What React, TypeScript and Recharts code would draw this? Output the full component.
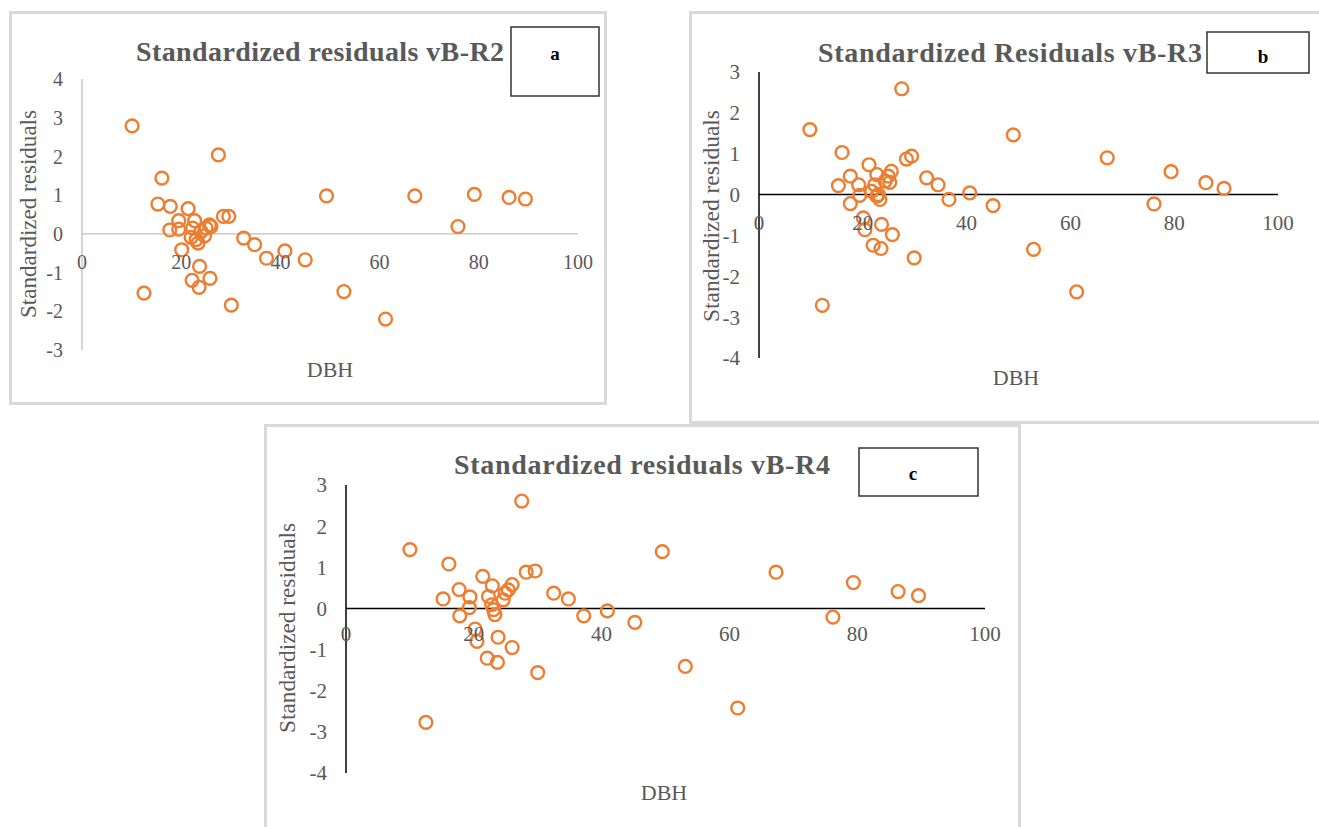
import React from 'react';
import { ScatterChart, Scatter, XAxis, YAxis, ReferenceLine } from 'recharts';

// Panel a: vB-R2
const dbhA = [10.1, 12.5, 15.3, 16.1, 17.7, 17.8, 19.5, 19.5, 20.1, 21.4, 22.0, 22.2, 22.3, 22.7, 23.0, 23.4, 23.6, 23.7, 24.0, 24.7, 25.0, 25.7, 25.8, 26.0, 27.5, 28.5, 29.6, 30.1, 32.6, 34.8, 37.2, 40.9, 45.0, 49.3, 52.8, 61.2, 67.1, 75.8, 79.1, 86.1, 89.4];
const residA = [2.79, -1.53, 0.77, 1.44, 0.1, 0.71, 0.34, 0.12, -0.41, 0.65, -0.09, -1.2, 0.15, 0.34, -0.15, -0.24, -1.38, -0.84, 0.06, -0.05, 0.15, 0.23, -1.15, 0.19, 2.04, 0.45, 0.45, -1.84, -0.11, -0.28, -0.63, -0.44, -0.67, 0.98, -1.49, -2.2, 0.98, 0.19, 1.02, 0.94, 0.9];

// Panel b: vB-R3
const dbhB = [9.8, 12.2, 15.3, 16.0, 17.6, 17.6, 19.2, 19.4, 20.1, 20.4, 21.2, 21.7, 22.0, 22.3, 22.7, 22.7, 23.0, 23.3, 23.5, 23.6, 24.3, 24.9, 25.2, 25.5, 25.7, 27.5, 28.4, 29.4, 29.9, 32.3, 34.5, 36.6, 40.6, 45.1, 49.0, 52.9, 61.2, 67.1, 76.1, 79.4, 86.1, 89.6];
const residB = [1.59, -2.71, 0.22, 1.03, 0.45, -0.22, 0.24, -0.02, -0.57, -0.86, 0.73, 0.08, -1.24, 0.24, 0.49, -0.04, 0.0, -0.12, -1.32, -0.73, 0.33, 0.45, 0.3, 0.57, -0.98, 2.59, 0.87, 0.94, -1.55, 0.41, 0.24, -0.12, 0.04, -0.27, 1.46, -1.34, -2.38, 0.9, -0.23, 0.56, 0.29, 0.15];

// Panel c: vB-R4
const dbhC = [10.0, 12.5, 15.2, 16.1, 17.7, 17.8, 19.4, 19.3, 20.2, 20.5, 21.4, 22.3, 22.1, 22.8, 22.9, 23.1, 23.3, 23.7, 23.8, 24.6, 24.9, 25.4, 26.0, 26.0, 27.5, 28.2, 29.6, 30.0, 32.5, 34.8, 37.2, 40.9, 45.2, 49.5, 53.1, 61.3, 67.3, 76.2, 79.4, 86.4, 89.6];
const residC = [1.43, -2.77, 0.23, 1.08, 0.46, -0.18, 0.28, 0.02, -0.5, -0.8, 0.78, 0.29, -1.21, 0.09, 0.55, -0.03, -0.15, -1.31, -0.7, 0.21, 0.37, 0.45, 0.58, -0.95, 2.61, 0.88, 0.91, -1.56, 0.37, 0.23, -0.18, -0.06, -0.34, 1.38, -1.41, -2.42, 0.88, -0.21, 0.63, 0.41, 0.31];

const xTicks = [0, 20, 40, 60, 80, 100];
const yTicksA = [-3, -2, -1, 0, 1, 2, 3, 4];
const yTicksBC = [-4, -3, -2, -1, 0, 1, 2, 3];

const SERIF = '"Liberation Serif", "Times New Roman", serif';
const ORANGE = '#ED7D31';
const TEXT = '#595959';

const toPoints = (xs: number[], ys: number[]) => xs.map((x, i) => ({ x, y: ys[i] }));

// hollow circle marker like Excel
const Ring = (props: any) => (
  <circle cx={props.cx} cy={props.cy} r={6.4} fill="none" stroke={ORANGE} strokeWidth={2.4} />
);

interface PanelProps {
  left: number;
  top: number;
  width: number;
  height: number;
  margin: { top: number; right: number; bottom: number; left: number };
  data: { x: number; y: number }[];
  yDomain: [number, number];
  yTicks: number[];
  axisColor: string;
  axisWidth: number;
  fontSize: number;
  labelGap: number;
}

const Panel = ({ left, top, width, height, margin, data, yDomain, yTicks, axisColor, axisWidth, fontSize, labelGap }: PanelProps) => {
  // x labels sit just under the zero line, not at the bottom of the plot
  const plotH = height - margin.top - margin.bottom - 30;
  const zeroY = margin.top + (yDomain[1] / (yDomain[1] - yDomain[0])) * plotH;
  const XTick = (p: any) => (
    <text x={p.x} y={zeroY + labelGap} textAnchor="middle" dominantBaseline="central" fill={TEXT} fontSize={fontSize} fontFamily={SERIF}>
      {p.payload.value}
    </text>
  );
  return (
    <div style={{ position: 'absolute', left, top }}>
      <ScatterChart width={width} height={height} margin={margin}>
        <XAxis type="number" dataKey="x" domain={[0, 100]} ticks={xTicks} axisLine={false} tickLine={false} height={30} tick={XTick} interval={0} />
        <YAxis
          type="number"
          dataKey="y"
          domain={yDomain}
          ticks={yTicks}
          width={60}
          interval={0}
          tickLine={false}
          tickSize={0}
          tickMargin={19}
          axisLine={{ stroke: axisColor, strokeWidth: axisWidth }}
          tick={{ fill: TEXT, fontSize, fontFamily: SERIF }}
        />
        <ReferenceLine y={0} stroke={axisColor} strokeWidth={axisWidth} />
        <Scatter data={data} shape={Ring} isAnimationActive={false} />
      </ScatterChart>
    </div>
  );
};

const frame = (left: number, top: number, width: number, height: number): React.CSSProperties => ({
  position: 'absolute',
  left,
  top,
  width,
  height,
  border: '3px solid #d9d9d9',
  boxSizing: 'border-box',
});

export default function App() {
  return (
    <div style={{ position: 'absolute', left: 0, top: 0, width: 1319, height: 827, background: '#fff', overflow: 'hidden' }}>
      <div style={frame(9, 11, 598, 394)} />
      <div style={frame(689, 11, 650, 413)} />
      <div style={frame(264, 424, 757, 420)} />

      <Panel
        left={10}
        top={12}
        width={596}
        height={392}
        margin={{ top: 67, right: 28, bottom: 24, left: 12 }}
        data={toPoints(dbhA, residA)}
        yDomain={[-3, 4]}
        yTicks={yTicksA}
        axisColor="#bfbfbf"
        axisWidth={1.3}
        fontSize={20}
        labelGap={28}
      />
      <Panel
        left={690}
        top={12}
        width={629}
        height={411}
        margin={{ top: 60, right: 41, bottom: 35, left: 9 }}
        data={toPoints(dbhB, residB)}
        yDomain={[-4, 3]}
        yTicks={yTicksBC}
        axisColor="#000"
        axisWidth={1.5}
        fontSize={21}
        labelGap={28}
      />
      <Panel
        left={265}
        top={425}
        width={755}
        height={402}
        margin={{ top: 60, right: 35, bottom: 24, left: 21 }}
        data={toPoints(dbhC, residC)}
        yDomain={[-4, 3]}
        yTicks={yTicksBC}
        axisColor="#000"
        axisWidth={1.5}
        fontSize={21}
        labelGap={26}
      />

      <svg width={1319} height={827} style={{ position: 'absolute', left: 0, top: 0, pointerEvents: 'none' }}>
        <g fontFamily={SERIF} fill={TEXT}>
          <text x={136} y={61} fontSize={28} fontWeight="bold" textLength={368} lengthAdjust="spacing">Standardized residuals vB-R2</text>
          <text x={818} y={62} fontSize={28} fontWeight="bold" textLength={384} lengthAdjust="spacing">Standardized Residuals vB-R3</text>
          <text x={454} y={474} fontSize={28} fontWeight="bold" textLength={376} lengthAdjust="spacing">Standardized residuals vB-R4</text>

          <text transform="translate(36,214) rotate(-90)" textAnchor="middle" fontSize={23} textLength={208} lengthAdjust="spacingAndGlyphs">Standardized residuals</text>
          <text transform="translate(719,216) rotate(-90)" textAnchor="middle" fontSize={23} textLength={212} lengthAdjust="spacingAndGlyphs">Standardized residuals</text>
          <text transform="translate(295,628) rotate(-90)" textAnchor="middle" fontSize={23} textLength={210} lengthAdjust="spacingAndGlyphs">Standardized residuals</text>

          <text x={330} y={377} textAnchor="middle" fontSize={22}>DBH</text>
          <text x={1016} y={385} textAnchor="middle" fontSize={22}>DBH</text>
          <text x={664} y={800} textAnchor="middle" fontSize={22}>DBH</text>
        </g>
        <g fill="#fff" stroke="#333" strokeWidth={1.5}>
          <rect x={511} y={27} width={88} height={69} />
          <rect x={1207} y={32} width={102} height={41} />
          <rect x={859} y={448} width={119} height={48} />
        </g>
        <g fontFamily={SERIF} fontWeight="bold" fontSize={19} fill="#000" textAnchor="middle" dominantBaseline="central">
          <text x={555} y={53}>a</text>
          <text x={1263} y={56}>b</text>
          <text x={913} y={473}>c</text>
        </g>
      </svg>
    </div>
  );
}
